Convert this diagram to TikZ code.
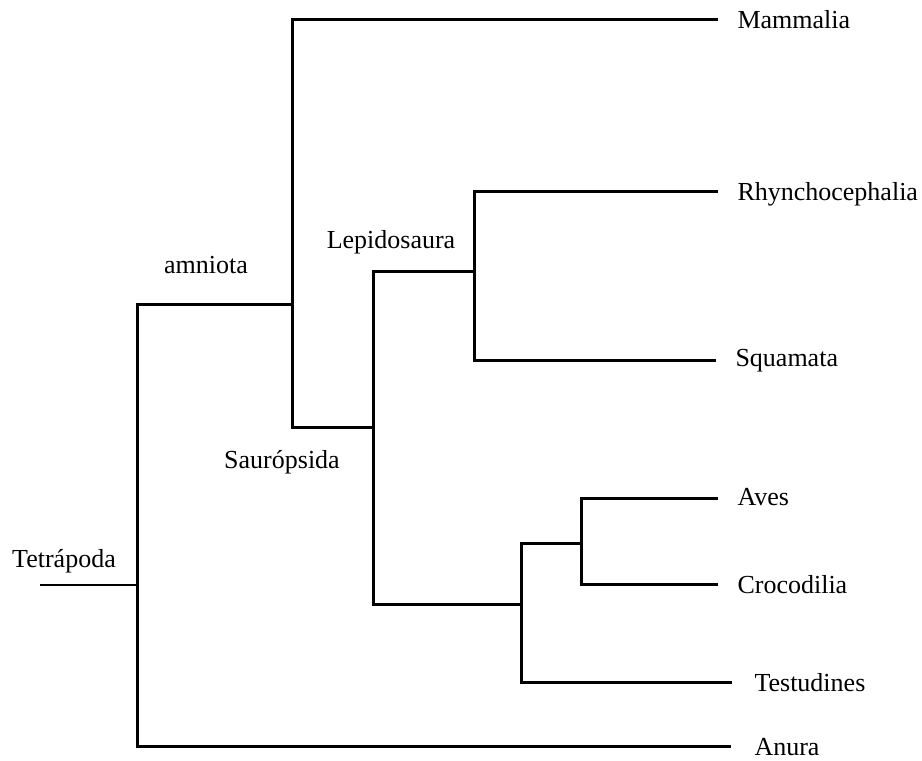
\documentclass[tikz,border=0pt]{standalone}
\usepackage{fontspec}
\setmainfont{Liberation Serif}
\usepackage{tikz}
\usetikzlibrary{positioning}

\begin{document}
\begin{tikzpicture}[x=1pt, y=-1pt, line width=3pt,
    every node/.style={inner sep=0pt, font=\fontsize{26}{31}\selectfont},
    leaf/.style={anchor=base west, xshift=18pt, yshift=-9pt},
    clade/.style={anchor=base}]
    \useasboundingbox (0,0) rectangle (922,761);
    % junctions
    \coordinate (start) at (40,585);
    \coordinate (tet) at (137,585);
    \coordinate (amn) at (292,304);
    \coordinate (saur) at (373,427);
    \coordinate (lep) at (474,271);
    \coordinate (arc) at (521,604);
    \coordinate (archo) at (581,543);
    % tips
    \coordinate (mam) at (718,19);
    \coordinate (rhy) at (718,191);
    \coordinate (squ) at (716,360);
    \coordinate (ave) at (718,498);
    \coordinate (cro) at (718,584);
    \coordinate (tes) at (732,682);
    \coordinate (anu) at (731,746);
    % branches
    \draw[line width=2pt] (start) -- (tet);
    \draw (amn) -| (tet) |- (anu);
    \draw (mam) -| (amn) |- (saur);
    \draw (lep) -| (saur) |- (arc);
    \draw (rhy) -| (lep) |- (squ);
    \draw (archo) -| (arc) |- (tes);
    \draw (ave) -| (archo) |- (cro);
    % tip labels
    \node[leaf] (mamT) at (mam) {Mammalia};
    \node[leaf] (rhyT) at (rhy) {Rhynchocephalia};
    \node[leaf, yshift=3pt] (squT) at (squ) {Squamata};
    \node[leaf, yshift=2pt] (aveT) at (ave) {Aves};
    \node[leaf] (croT) at (cro) {Crocodilia};
    \node[leaf, xshift=3pt] (tesT) at (tes) {Testudines};
    \node[leaf, xshift=4pt] (anuT) at (anu) {Anura};
    % clade labels
    \node[clade] (tetT) at (64,567) {Tetrápoda};
    \node[clade] (amnT) at (206,273) {amniota};
    \node[clade] (lepT) at (391,248) {Lepidosaura};
    \node[clade] (saurT) at (282,468) {Saurópsida};
\end{tikzpicture}
\end{document}
